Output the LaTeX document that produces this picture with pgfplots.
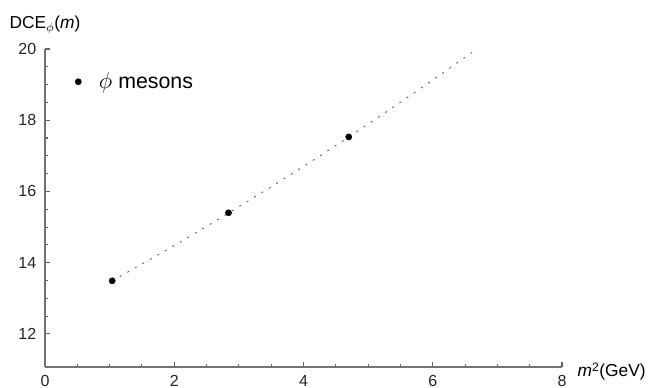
\documentclass[border=0pt]{standalone}
\usepackage{fontspec}
\setmainfont{Liberation Sans}
\usepackage{pgfplots}
\pgfplotsset{compat=1.18}
\begin{document}
\begin{tikzpicture}
\begin{axis}[
  scale only axis, width=387.75pt, height=238.5pt,
  xmin=0, xmax=8, ymin=11.07, ymax=20,
  axis lines=left,
  axis line style={-, black!55, line width=0.8pt},
  xtick={0,2,4,6,8}, ytick={12,14,16,18,20},
  xticklabels={0,2,4,6,8}, yticklabels={12,14,16,18,20},
  minor x tick num=3, minor y tick num=3,
  tick align=inside,
  major tick length=4pt, minor tick length=2.6pt,
  tick style={black!60, line width=0.8pt},
  ticklabel style={font=\fontsize{12}{14}\selectfont, text=black!85},
  yticklabel style={xshift=-3pt},
  xticklabel style={yshift=-2.5pt},
  clip=false,
  xlabel style={at={(rel axis cs:1,0)}, anchor=base west, xshift=11.5pt, yshift=-7.5pt, inner sep=0pt, font=\fontsize{13}{15}\selectfont},
  ylabel style={at={(rel axis cs:0,1)}, rotate=-90, anchor=base, yshift=15.5pt, inner sep=0pt, font=\fontsize{13}{15}\selectfont},
  xlabel={\textit{m}\textsuperscript{2}(GeV)},
  ylabel={DCE$_{\phi}$(\textit{m})},
  legend style={draw=none, fill=none, at={(axis description cs:0.0575,0.897)}, anchor=west, inner sep=0pt, font=\fontsize{16}{19}\selectfont, /tikz/every odd column/.append style={column sep=11pt}},
  legend cell align=left,
]
\addplot[black!60, line width=0.7pt, dash pattern=on 1.5pt off 5pt, smooth, forget plot] coordinates {
  (1.04,13.49) (2,14.48) (3,15.57) (4,16.70) (5,17.89) (6,19.13) (6.68,20.0)
};
\addplot[only marks, mark=*, mark size=2.3pt, black,
  legend image code/.code={\fill[black] (0pt,0pt) circle (2.3pt);}] coordinates {
  (1.04,13.49) (2.84,15.40) (4.70,17.53)
};
\addlegendentry{$\phi$ mesons}
\end{axis}
\path (current axis.south west) ++(-33.75pt,-15.75pt) coordinate (bbA);
\path (current axis.south west) ++(454.5pt,275.25pt) coordinate (bbB);
\pgfresetboundingbox
\useasboundingbox (bbA) rectangle (bbB);
\end{tikzpicture}
\end{document}
